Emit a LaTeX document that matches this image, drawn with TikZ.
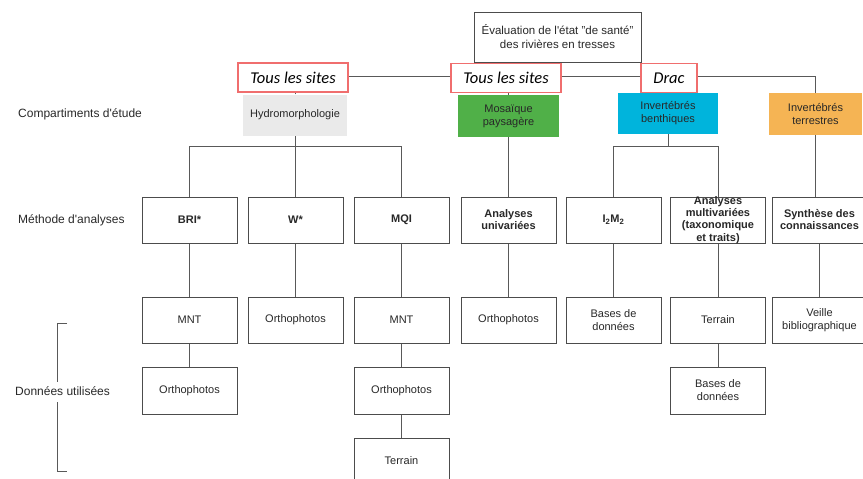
\documentclass[tikz,border=0pt]{standalone}
\usepackage{fontspec}
\setmainfont{Liberation Sans}
\newfontfamily\calibri{Carlito}
\usepackage{tikz}
\usetikzlibrary{positioning,backgrounds}
\definecolor{hydrogray}{RGB}{234,234,234}
\definecolor{mosagreen}{RGB}{80,176,72}
\definecolor{benthblue}{RGB}{0,180,220}
\definecolor{terrorange}{RGB}{245,180,84}
\definecolor{sitered}{RGB}{240,110,110}
\definecolor{txtgray}{RGB}{40,40,40}

\begin{document}
\begin{tikzpicture}[x=1pt,y=-1pt,
    every node/.style={text=txtgray,font=\fontsize{11}{13}\selectfont},
    link/.style={draw=black!65,line width=0.9pt},
    box/.style={draw=black!70,line width=1pt,fill=white,minimum width=95pt,minimum height=46pt,inner sep=1pt,align=center},
    boldbox/.style={box,font=\bfseries\fontsize{11}{12}\selectfont},
    comp/.style={minimum height=41pt,inner sep=1pt,align=center},
    sitelabel/.style={draw=sitered,line width=1.2pt,fill=white,minimum height=29pt,inner sep=2pt,font=\calibri\itshape\fontsize{16.5}{18}\selectfont,text=black},
    rowlabel/.style={anchor=west,inner sep=0pt,font=\fontsize{12}{14}\selectfont}]
  \useasboundingbox (0,0) rectangle (863,479);

  % top and the sites
  \node[box,minimum width=167pt,minimum height=50pt,font=\fontsize{11.5}{14}\selectfont] (top) at (557.5,37) {Évaluation de l\textquotesingle état "de santé"\\des rivières en tresses};
  \coordinate (hl) at (0,76);
  \node[sitelabel,minimum width=110pt] (tous1) at (293,77.5) {Tous les sites};
  \node[sitelabel,minimum width=110pt] (tous2) at (506,78) {Tous les sites};
  \node[sitelabel,minimum width=56pt] (drac) at (669,78) {Drac};

  % compartments
  \node[comp,fill=hydrogray,minimum width=104pt] (hydro) at (295,115) {Hydromorphologie};
  \node[comp,fill=mosagreen,minimum width=101pt,minimum height=42pt] (mosa) at (508.5,116) {Mosaïque\\paysagère};
  \node[comp,fill=benthblue,minimum width=100pt] (benth) at (668,113) {Invertébrés\\benthiques};
  \node[comp,fill=terrorange,minimum width=93pt,minimum height=42pt] (terr) at (815.5,114) {Invertébrés\\terrestres};

  % methods
  \node[boldbox] (bri) at (189.5,220) {BRI*};
  \node[boldbox] (w) at (295.5,220) {W*};
  \node[boldbox] (mqi) at (401.5,220) {MQI};
  \node[boldbox] (univ) at (508.5,220) {Analyses\\univariées};
  \node[boldbox] (iim) at (613.5,220) {I$_{\mathbf 2}$M$_{\mathbf 2}$};
  \node[boldbox] (multi) at (718,220) {};
  \node[font=\bfseries\fontsize{11}{12.3}\selectfont,align=center] at (multi) {Analyses\\multivariées\\(taxonomique\\et traits)};
  \node[boldbox] (synth) at (819.5,220) {Synthèse des\\connaissances};

  % data
  \node[box] (mnt1) at (189.5,320) {MNT};
  \node[box] (ortho1) at (295.5,320) {Orthophotos};
  \node[box] (mnt2) at (401.5,320) {MNT};
  \node[box] (ortho2) at (508.5,320) {Orthophotos};
  \node[box] (bdd1) at (613.5,320) {Bases de\\données};
  \node[box] (terrain1) at (718,320) {Terrain};
  \node[box] (veille) at (819.5,320) {Veille\\bibliographique};
  \node[box,minimum height=47pt] (ortho3) at (189.5,390.5) {Orthophotos};
  \node[box,minimum height=47pt] (ortho4) at (401.5,390.5) {Orthophotos};
  \node[box,minimum height=47pt] (bdd2) at (718,390.5) {Bases de\\données};
  \node[box] (terrain2) at (401.5,461) {Terrain};

  % row labels
  \node[rowlabel] (lcomp) at (18,114) {Compartiments d\textquotesingle étude};
  \node[rowlabel] (lmeth) at (18,220) {Méthode d\textquotesingle analyses};
  \node[rowlabel] (ldata) at (15,391) {Données utilisées};
  \draw[link] (67,323) -- (57,323) -- (57,382);
  \draw[link] (57,402) -- (57,471) -- (67,471);

  \begin{scope}[on background layer]
    \draw[link] (hydro.north) -- (hydro.north |- hl) -| (terr.north);
    \draw[link] (top.south) -- (top.south |- hl);
    \draw[link] (mosa.north) -- (mosa.north |- hl);
    \draw[link] (benth.north) -- (benth.north |- hl);
    \coordinate (hb) at (295,146);
    \coordinate (bb) at (668,146);
    \draw[link] (hydro.south) -- (hb);
    \draw[link] (hb) -| (bri.north);
    \draw[link] (hb) -| (mqi.north);
    \draw[link] (hb) -- (hb -| w.north) -- (w.north);
    \draw[link] (mosa.south) -- (univ.north);
    \draw[link] (benth.south) -- (bb);
    \draw[link] (bb) -| (iim.north);
    \draw[link] (bb) -| (multi.north);
    \draw[link] (terr.south) -- (terr.south |- synth.north);
    \draw[link] (bri) -- (mnt1);
    \draw[link] (w) -- (ortho1);
    \draw[link] (mqi) -- (mnt2);
    \draw[link] (univ) -- (ortho2);
    \draw[link] (iim) -- (bdd1);
    \draw[link] (multi) -- (terrain1);
    \draw[link] (synth) -- (veille);
    \draw[link] (mnt1) -- (ortho3);
    \draw[link] (mnt2) -- (ortho4);
    \draw[link] (ortho4) -- (terrain2);
    \draw[link] (terrain1) -- (bdd2);
  \end{scope}
\end{tikzpicture}
\end{document}
